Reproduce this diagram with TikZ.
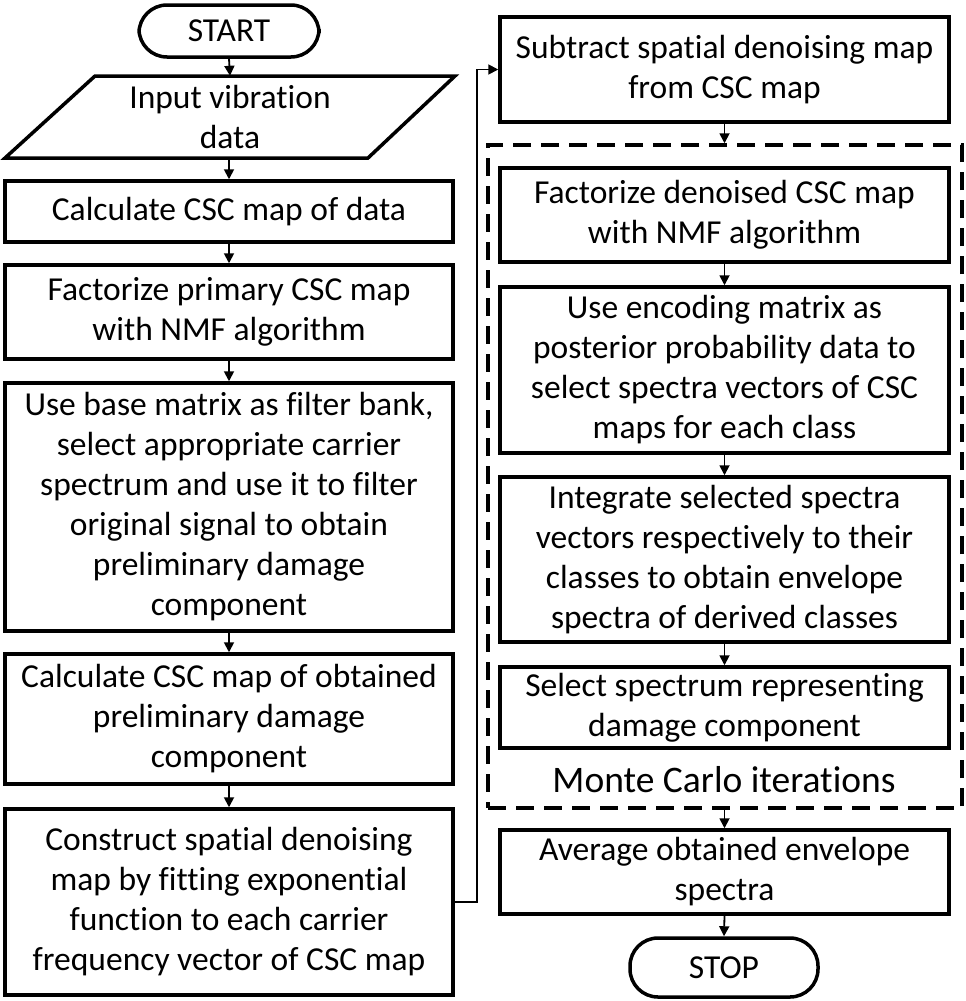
\documentclass[tikz,border=0pt]{standalone}
\usepackage{fontspec}
\setmainfont[Ligatures=NoCommon]{Carlito}
\usetikzlibrary{arrows.meta,calc}
\begin{document}
\begin{tikzpicture}[x=1pt,y=-1pt,
  txt/.style={font=\fontsize{33.5}{40}\selectfont, align=center, inner sep=0pt},
  box/.style={txt, draw, line width=3.5pt, minimum width=#1},
  lbox/.style={box=448pt},
  rbox/.style={box=449pt},
  term/.style={txt, draw, line width=3.5pt, rounded corners=28pt},
  arr/.style={line width=1.8pt, -{Triangle[length=10pt,width=10pt]}},
  mcbox/.style={draw, line width=3.5pt, dash pattern=on 18pt off 10pt, minimum width=474pt, minimum height=663pt, inner sep=0pt}
]
\useasboundingbox (0,0) rectangle (966,1001);
% left column
\node[term, minimum width=180pt, minimum height=52pt] (start) at (229,31) {START};
\draw[line width=3.5pt, line join=miter] (95,76) -- (455,76) -- (368,158) -- (5,158) -- cycle;
\node[txt, minimum height=82pt, minimum width=360pt] (in) at (230,117) {Input vibration\\data};
\node[lbox, minimum height=61pt] (cdata) at (229,211.5) {Calculate CSC map of data};
\node[lbox, minimum height=94pt] (fprim) at (229,312) {Factorize primary CSC map\\with NMF algorithm};
\node[lbox, minimum height=248pt] (base) at (229,507) {Use base matrix as filter bank,\\select appropriate carrier\\spectrum and use it to filter\\original signal to obtain\\preliminary damage\\component};
\node[lbox, minimum height=130pt] (cobt) at (229,719) {Calculate CSC map of obtained\\preliminary damage\\component};
\node[lbox, minimum height=186pt] (cons) at (229,902) {Construct spatial denoising\\map by fitting exponential\\function to each carrier\\frequency vector of CSC map};
% right column
\node[rbox, minimum height=105pt] (sub) at (724.5,69.5) {Subtract spatial denoising map\\from CSC map};
\node[mcbox] (mc) at (725,476.5) {};
\node[rbox, minimum height=94pt] (fden) at (724.5,215) {Factorize denoised CSC map\\with NMF algorithm};
\node[rbox, minimum height=166pt] (enc) at (724.5,370) {Use encoding matrix as\\posterior probability data to\\select spectra vectors of CSC\\maps for each class};
\node[rbox, minimum height=165pt] (integ) at (724.5,559.5) {Integrate selected spectra\\vectors respectively to their\\classes to obtain envelope\\spectra of derived classes};
\node[rbox, minimum height=81pt] (sel) at (724.5,707.5) {Select spectrum representing\\damage component};
\node[txt, font=\fontsize{37.5}{40}\selectfont] (mclabel) at (724,780) {Monte Carlo iterations};
\node[rbox, minimum height=84pt] (avg) at (724.5,872) {Average obtained envelope\\spectra};
\node[term, minimum width=188pt, minimum height=59pt] (stop) at (724,967.5) {STOP};
\coordinate (bx) at (477,0);
% connectors
\draw[arr] (start.south) -- (in.north);
\draw[arr] (in.south -| cdata.north) -- (cdata.north);
\draw[arr] (cdata.south) -- (fprim.north);
\draw[arr] (fprim.south) -- (base.north);
\draw[arr] (base.south) -- (cobt.north);
\draw[arr] (cobt.south) -- (cons.north);
\draw[arr] (cons.east) -- (cons.east -| bx) |- (sub.west);
\draw[arr] (sub.south) -- (sub.south |- mc.north);
\draw[arr] (fden.south) -- (enc.north);
\draw[arr] (enc.south) -- (integ.north);
\draw[arr] (integ.south) -- (sel.north);
\draw[arr] (avg.north |- mc.south) -- (avg.north);
\draw[arr] (avg.south) -- (stop.north);
\end{tikzpicture}
\end{document}
